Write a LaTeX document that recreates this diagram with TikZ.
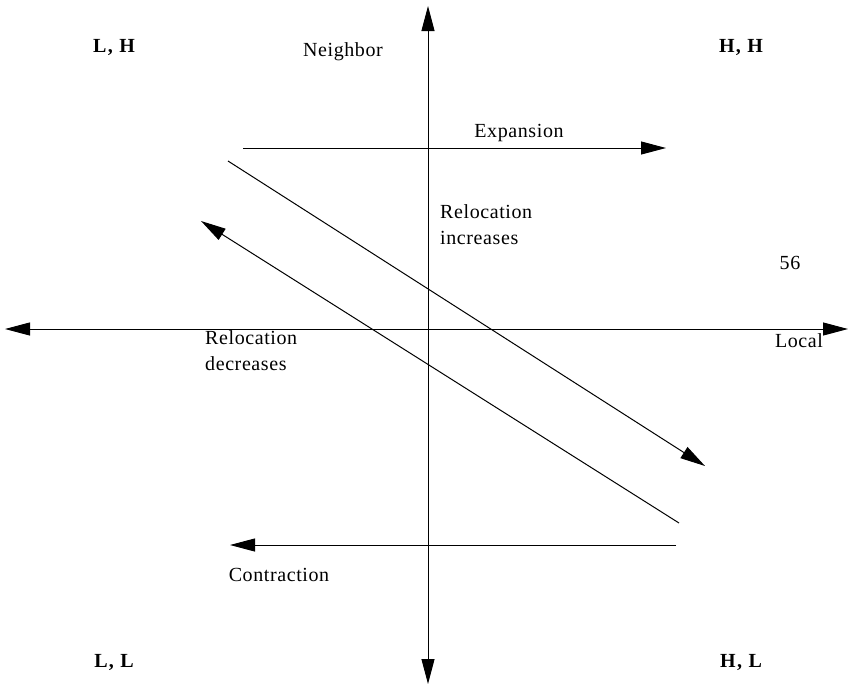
\documentclass[tikz,border=0pt]{standalone}
\usepackage{fontspec}
\setmainfont{Liberation Serif}
\usetikzlibrary{arrows.meta}
\begin{document}
\begin{tikzpicture}[x=1pt,y=-1pt,
  conn/.style={line width=1pt,-{Triangle[length=25pt,width=13pt]}},
  both/.style={line width=1pt,{Triangle[length=25pt,width=13pt]}-{Triangle[length=25pt,width=13pt]}},
  lbl/.style={font=\fontsize{20}{26}\selectfont\addfontfeatures{LetterSpace=3},inner sep=0pt},
  corner/.style={font=\fontsize{20}{26}\selectfont\bfseries\addfontfeatures{LetterSpace=7},inner sep=0pt}]
\useasboundingbox (0,0) rectangle (854,691);
% axes
\coordinate (vt) at (428,6);
\coordinate (vb) at (428,684);
\coordinate (hl) at (5,329);
\coordinate (hr) at (848,329);
\draw[both] (vb) -- (vt);
\draw[both] (hl) -- (hr);
% expansion / contraction
\coordinate (e1) at (243,148);
\coordinate (e2) at (666,148);
\draw[conn] (e1) -- (e2);
\coordinate (c1) at (676,545);
\coordinate (c2) at (230,545);
\draw[conn] (c1) -- (c2);
% diagonals
\coordinate (d1) at (228,161);
\coordinate (d2) at (705,466);
\draw[conn] (d1) -- (d2);
\coordinate (r1) at (679,523);
\coordinate (r2) at (201,221);
\draw[conn] (r1) -- (r2);
% labels
\node[corner] (lh) at (114,47) {L, H};
\node[corner] (hh) at (741,47) {H, H};
\node[corner] (ll) at (114,662) {L, L};
\node[corner] (hl2) at (741,662) {H, L};
\node[lbl] (nb) at (343,52) {Neighbor};
\node[lbl] (ex) at (519,133) {Expansion};
\node[lbl,anchor=west,align=left] (ri) at (440,225) {Relocation\\increases};
\node[lbl] (n56) at (790,263) {56};
\node[lbl] (lc) at (799,341) {Local};
\node[lbl,anchor=west,align=left] (rd) at (205,351) {Relocation\\decreases};
\node[lbl] (ct) at (279,575) {Contraction};
\end{tikzpicture}
\end{document}
